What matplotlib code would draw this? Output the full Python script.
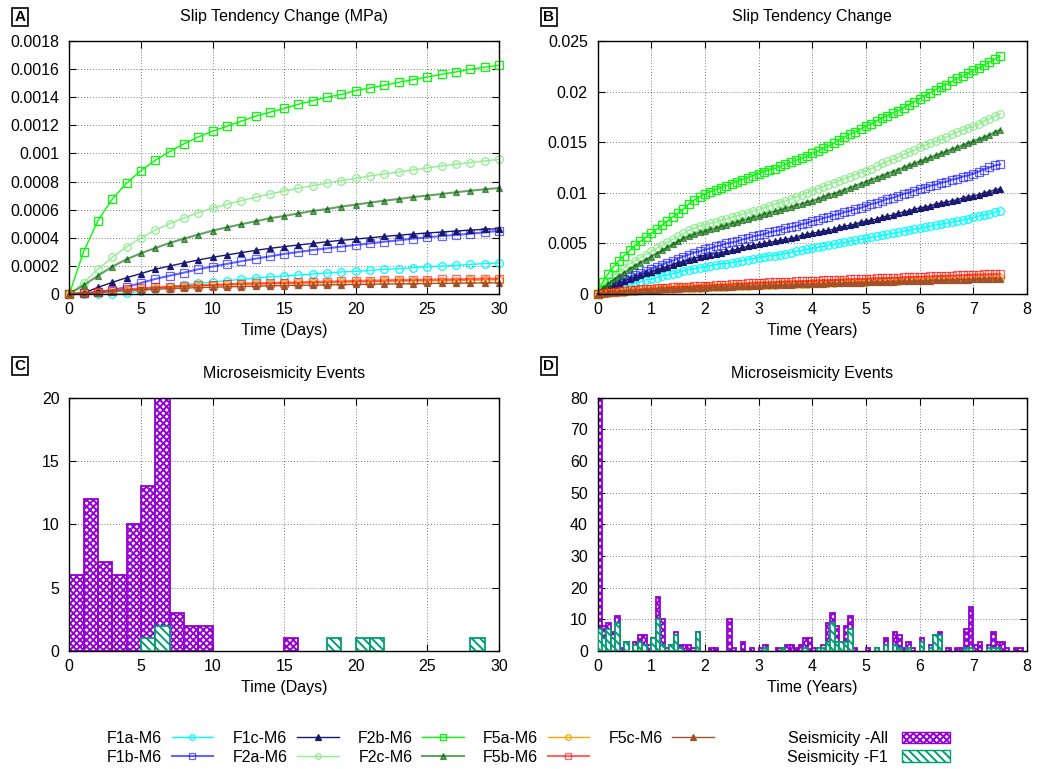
import numpy as np
import matplotlib
matplotlib.use('Agg')
import matplotlib.pyplot as plt
from matplotlib.lines import Line2D
from matplotlib.patches import Patch
from matplotlib.ticker import FuncFormatter, MultipleLocator

plt.rcParams['font.family'] = ['Liberation Sans', 'DejaVu Sans']
plt.rcParams['hatch.linewidth'] = 1.4

# ---- panel A : slip tendency change, daily (units of 1e-4 MPa)
days = np.arange(31)
f1a_a = [0, 0, 0, 0, 0.07, 0.2, 0.38, 0.52, 0.64, 0.76, 0.85, 0.95, 1.04, 1.14, 1.21, 1.28,
         1.35, 1.42, 1.49, 1.57, 1.61, 1.68, 1.76, 1.8, 1.87, 1.95, 1.99, 2.04, 2.11, 2.16, 2.21]
f1b_a = [0, 0.05, 0.14, 0.28, 0.5, 0.78, 1.07, 1.3, 1.52, 1.76, 1.95, 2.14, 2.33, 2.51, 2.68, 2.85,
         2.99, 3.13, 3.25, 3.37, 3.49, 3.6, 3.72, 3.82, 3.94, 4.03, 4.13, 4.2, 4.29, 4.39, 4.5]
f1c_a = [0, 0.07, 0.47, 0.83, 1.16, 1.45, 1.76, 1.99, 2.21, 2.42, 2.61, 2.78, 2.94, 3.1, 3.25, 3.37,
         3.49, 3.6, 3.72, 3.82, 3.91, 4.0, 4.1, 4.18, 4.27, 4.34, 4.41, 4.48, 4.55, 4.6, 4.65]
f2a_a = [0, 0.8, 1.76, 2.61, 3.35, 4.0, 4.55, 5.0, 5.41, 5.79, 6.1, 6.38, 6.64, 6.88, 7.12, 7.33,
         7.52, 7.71, 7.9, 8.07, 8.23, 8.4, 8.54, 8.68, 8.83, 8.97, 9.11, 9.23, 9.35, 9.47, 9.58]
f2b_a = [0, 3.01, 5.22, 6.76, 7.88, 8.78, 9.51, 10.13, 10.68, 11.17, 11.58, 11.93, 12.29, 12.65, 12.93, 13.2,
         13.5, 13.76, 14.0, 14.2, 14.47, 14.66, 14.85, 15.06, 15.25, 15.44, 15.63, 15.8, 15.99, 16.13, 16.27]
f2c_a = [0, 0.62, 1.3, 1.95, 2.47, 2.9, 3.27, 3.63, 3.94, 4.22, 4.51, 4.74, 4.96, 5.17, 5.39, 5.55,
         5.74, 5.91, 6.05, 6.22, 6.36, 6.5, 6.64, 6.76, 6.9, 7.0, 7.12, 7.24, 7.35, 7.45, 7.54]
f5a_a = [0, 0.04, 0.12, 0.21, 0.3, 0.37, 0.43, 0.48, 0.53, 0.57, 0.61, 0.64, 0.68, 0.7, 0.73, 0.75,
         0.77, 0.79, 0.81, 0.83, 0.85, 0.87, 0.89, 0.9, 0.92, 0.93, 0.95, 0.96, 0.97, 0.99, 1.0]
f5b_a = [0, 0.05, 0.14, 0.24, 0.33, 0.4, 0.47, 0.52, 0.57, 0.62, 0.66, 0.69, 0.74, 0.76, 0.78, 0.81,
         0.83, 0.85, 0.88, 0.9, 0.93, 0.95, 0.97, 1.0, 1.0, 1.02, 1.04, 1.04, 1.07, 1.09, 1.09]
f5c_a = [0, 0.03, 0.1, 0.17, 0.24, 0.3, 0.34, 0.38, 0.42, 0.45, 0.48, 0.51, 0.53, 0.56, 0.58, 0.6,
         0.62, 0.63, 0.65, 0.67, 0.68, 0.7, 0.71, 0.72, 0.73, 0.75, 0.76, 0.77, 0.78, 0.79, 0.8]

# ---- panel B : slip tendency change, every 0.1 year (units of 1e-4)
years = np.arange(76) * 0.1
f1a_b = [0, 2, 3, 5, 6, 8, 9, 11, 12, 14, 15, 16, 18, 19, 20, 21, 23, 24, 25, 26,
         27, 28, 29, 30, 30, 31, 32, 33, 34, 35, 36, 37, 38, 38, 39, 40, 41, 42, 43, 44,
         45, 46, 47, 48, 49, 50, 51, 52, 53, 54, 55, 56, 57, 58, 59, 60, 61, 62, 63, 64,
         65, 66, 67, 68, 69, 70, 71, 72, 73, 74, 76, 77, 78, 79, 81, 82]
f1b_b = [0, 4, 7, 10, 13, 15, 17, 19, 21, 23, 25, 27, 29, 31, 33, 35, 37, 39, 41, 42,
         44, 45, 47, 48, 50, 51, 52, 54, 55, 57, 58, 59, 61, 62, 63, 65, 66, 67, 69, 70,
         72, 73, 75, 76, 78, 79, 81, 82, 84, 85, 87, 89, 90, 92, 94, 95, 97, 99, 100, 102,
         104, 105, 107, 108, 110, 111, 113, 114, 116, 117, 119, 121, 123, 125, 127, 128]
f1c_b = [0, 3, 6, 9, 11, 13, 15, 17, 19, 21, 22, 24, 26, 27, 29, 31, 32, 34, 35, 37,
         38, 39, 40, 41, 42, 43, 44, 46, 47, 48, 49, 50, 51, 52, 53, 54, 55, 56, 58, 59,
         60, 61, 62, 63, 64, 66, 67, 68, 69, 71, 72, 73, 74, 76, 77, 78, 80, 81, 82, 84,
         85, 86, 87, 89, 90, 91, 92, 93, 95, 96, 97, 98, 100, 101, 103, 104]
f2a_b = [0, 8, 13, 18, 22, 26, 30, 33, 36, 39, 42, 45, 48, 51, 54, 57, 60, 63, 65, 67,
         68, 70, 71, 73, 74, 76, 77, 79, 80, 82, 83, 85, 87, 89, 90, 92, 94, 96, 98, 100,
         102, 104, 106, 108, 110, 112, 114, 116, 118, 120, 122, 124, 126, 129, 131, 133, 135, 138, 140, 142,
         145, 147, 149, 151, 153, 155, 158, 160, 162, 164, 166, 168, 171, 173, 176, 178]
f2b_b = [0, 12, 20, 27, 33, 38, 43, 48, 52, 56, 60, 64, 68, 72, 76, 80, 84, 89, 93, 96,
         99, 101, 103, 105, 107, 109, 111, 113, 115, 117, 119, 121, 123, 124, 126, 128, 130, 132, 134, 136,
         139, 141, 144, 146, 149, 152, 155, 158, 160, 163, 166, 168, 171, 174, 176, 179, 181, 184, 187, 190,
         193, 196, 199, 202, 205, 207, 210, 213, 215, 218, 221, 223, 226, 229, 232, 235]
f2c_b = [0, 6, 10, 14, 18, 21, 25, 28, 31, 34, 37, 40, 43, 46, 49, 52, 55, 57, 59, 61,
         62, 64, 65, 67, 68, 70, 71, 73, 74, 76, 77, 79, 80, 82, 83, 85, 86, 88, 89, 91,
         92, 94, 96, 98, 99, 101, 103, 105, 107, 109, 111, 113, 115, 117, 119, 121, 123, 125, 127, 129,
         131, 133, 135, 137, 139, 141, 143, 145, 147, 149, 151, 153, 155, 157, 160, 162]
f5a_b = [0, 1, 1.3, 1.7, 2, 2.4, 2.8, 3.2, 3.6, 4, 4.2, 4.5, 4.8, 5, 5.3, 5.6, 5.8, 6, 6.2, 6.4,
         6.6, 6.8, 7, 7.2, 7.4, 7.6, 7.8, 8, 8.2, 8.4, 8.6, 8.8, 9, 9.2, 9.4, 9.5, 9.7, 9.9, 10.1, 10.3,
         10.5, 10.7, 10.8, 11, 11.2, 11.4, 11.5, 11.7, 11.9, 12, 12.2, 12.4, 12.5, 12.7, 12.9, 13, 13.2, 13.4, 13.5, 13.7,
         13.9, 14, 14.2, 14.4, 14.5, 14.7, 14.9, 15, 15.2, 15.4, 15.5, 15.6, 15.7, 15.8, 15.9, 16]
f5b_b = [0, 1, 1.5, 2, 2.5, 3, 3.5, 4, 4.5, 5, 5, 5.5, 6, 6, 6.5, 7, 7, 7, 7.5, 8,
         8, 8.3, 8.6, 8.9, 9.2, 9.5, 9.8, 10.1, 10.4, 10.7, 11, 11.2, 11.4, 11.6, 11.8, 12, 12.2, 12.4, 12.6, 12.8,
         13, 13.2, 13.4, 13.6, 13.8, 14, 14.2, 14.4, 14.6, 14.8, 15, 15.2, 15.4, 15.6, 15.8, 16, 16.2, 16.4, 16.6, 16.8,
         17, 17.2, 17.4, 17.6, 17.8, 18, 18.2, 18.4, 18.6, 18.8, 19, 19.2, 19.4, 19.6, 19.8, 20]
f5c_b = [0, 0.8, 1.2, 1.6, 2, 2.3, 2.7, 3, 3.4, 3.7, 4, 4.3, 4.5, 4.8, 5, 5.3, 5.5, 5.7, 5.9, 6.1,
         6.3, 6.5, 6.7, 6.9, 7.1, 7.3, 7.5, 7.7, 7.9, 8.1, 8.2, 8.4, 8.6, 8.8, 8.9, 9.1, 9.3, 9.4, 9.6, 9.8,
         9.9, 10.1, 10.2, 10.4, 10.6, 10.7, 10.9, 11, 11.2, 11.3, 11.5, 11.6, 11.8, 11.9, 12.1, 12.2, 12.4, 12.5, 12.7, 12.8,
         13, 13.1, 13.3, 13.4, 13.6, 13.7, 13.9, 14, 14.2, 14.3, 14.5, 14.6, 14.7, 14.8, 14.9, 15]

labels = ['F1a-M6', 'F1b-M6', 'F1c-M6', 'F2a-M6', 'F2b-M6', 'F2c-M6', 'F5a-M6', 'F5b-M6', 'F5c-M6']
data_a = [f1a_a, f1b_a, f1c_a, f2a_a, f2b_a, f2c_a, f5a_a, f5b_a, f5c_a]
data_b = [f1a_b, f1b_b, f1c_b, f2a_b, f2b_b, f2c_b, f5a_b, f5b_b, f5c_b]

# ---- panel C : daily event counts
c_days = np.arange(30)
all_c = [6, 12, 7, 6, 10, 13, 20, 3, 2, 2, 0, 0, 0, 0, 0, 1, 0, 0, 0, 0,
         0, 0, 0, 0, 0, 0, 0, 0, 0, 0]
f1_c = [0, 0, 0, 0, 0, 1, 2, 0, 0, 0, 0, 0, 0, 0, 0, 0, 0, 0, 1, 0,
        1, 1, 0, 0, 0, 0, 0, 0, 1, 0]

# ---- panel D : monthly event counts
d_months = np.arange(95) / 12.0
all_d = [80, 8, 9, 6, 11, 1, 3, 0, 3, 5, 5, 2, 4, 17, 10, 1, 2, 6, 2, 2,
         2, 1, 6, 0, 0, 1, 1, 0, 0, 10, 1, 0, 3, 0, 1, 0, 1, 2, 0, 0,
         1, 1, 2, 2, 1, 2, 4, 4, 1, 1, 2, 9, 12, 8, 3, 8, 11, 1, 0, 0,
         1, 0, 1, 0, 4, 0, 6, 5, 1, 3, 1, 0, 4, 0, 2, 5, 6, 0, 1, 0,
         1, 1, 7, 14, 2, 3, 0, 2, 6, 3, 3, 1, 0, 1, 1]
f1_d = [7, 4, 7, 4, 9, 0, 3, 0, 2, 3, 2, 0, 4, 10, 2, 0, 2, 5, 1, 0,
        0, 0, 6, 0, 0, 0, 0, 0, 0, 0, 0, 0, 0, 0, 0, 0, 0, 1, 0, 0,
        0, 1, 0, 0, 0, 0, 1, 0, 0, 1, 1, 3, 9, 3, 3, 3, 7, 0, 0, 0,
        0, 0, 1, 0, 2, 0, 2, 1, 0, 1, 0, 0, 3, 0, 1, 5, 5, 0, 0, 0,
        0, 0, 1, 1, 0, 0, 0, 1, 1, 1, 0, 0, 0, 0, 0]

# styles
colors = ['#00ffff', '#0000ff', '#191970', '#90ee90', '#00ff00', '#006400', '#ffa500', '#ff0000', '#a0522d']
markers = ['o', 's', '^', 'o', 's', '^', 'o', 's', '^']
alphas = [1, 0.6, 1, 1, 1, 0.6, 1, 0.6, 1]
PURPLE = '#9400d3'
TEAL = '#009e73'

W, H = 1037, 769
fig = plt.figure(figsize=(W / 100, H / 100), dpi=100)


def box(l, t, r, b):
    return [l / W, 1 - b / H, (r - l) / W, (b - t) / H]


axA = fig.add_axes(box(69.3, 41, 499, 294))
axB = fig.add_axes(box(597.5, 41, 1027, 294))
axC = fig.add_axes(box(69.3, 397.7, 499, 651))
axD = fig.add_axes(box(597.5, 397.7, 1027, 651))

handles = []
for i, lab in enumerate(labels):
    tri = markers[i] == '^'
    kw = dict(color=colors[i], marker=markers[i], ms=5.5 if not tri else 5.0, mew=0.9,
              mfc=colors[i] if tri else 'none', lw=1.5 if alphas[i] < 1 else 1.0,
              alpha=alphas[i], clip_on=False)
    axA.plot(days, np.array(data_a[i]) * 1e-4, **kw)
    axB.plot(years, np.array(data_b[i]) * 1e-4, **kw)
    lkw = dict(kw, ms=4.0)
    handles.append(Line2D([], [], label=lab, **lkw))

for ax, iv, cnt, f1 in ((axC, c_days, all_c, f1_c), (axD, d_months, all_d, f1_d)):
    iv = np.asarray(iv)
    w = iv[1] - iv[0]
    cnt = np.asarray(cnt)
    f1 = np.asarray(f1)
    m = cnt > 0
    ax.bar(iv[m], cnt[m], width=w, align='edge', facecolor='white', edgecolor=PURPLE,
           hatch='xxxxx', lw=1.3, zorder=2)
    m = f1 > 0
    ax.bar(iv[m], f1[m], width=w, align='edge', facecolor='white', edgecolor=TEAL,
           hatch='\\\\\\\\', lw=1.3, zorder=3)

fmt = FuncFormatter(lambda v, p: '%g' % round(v, 6))
axA.set_xlim(0, 30); axA.set_ylim(0, 0.0018)
axA.xaxis.set_major_locator(MultipleLocator(5)); axA.yaxis.set_major_locator(MultipleLocator(0.0002))
axB.set_xlim(0, 8); axB.set_ylim(0, 0.025)
axB.xaxis.set_major_locator(MultipleLocator(1)); axB.yaxis.set_major_locator(MultipleLocator(0.005))
axC.set_xlim(0, 30); axC.set_ylim(0, 20)
axC.xaxis.set_major_locator(MultipleLocator(5)); axC.yaxis.set_major_locator(MultipleLocator(5))
axD.set_xlim(0, 8); axD.set_ylim(0, 80)
axD.xaxis.set_major_locator(MultipleLocator(1)); axD.yaxis.set_major_locator(MultipleLocator(10))

titles = ['Slip Tendency Change (MPa)', 'Slip Tendency Change', 'Microseismicity Events', 'Microseismicity Events']
xlabs = ['Time (Days)', 'Time (Years)', 'Time (Days)', 'Time (Years)']
for ax, t, xl in zip((axA, axB, axC, axD), titles, xlabs):
    ax.set_axisbelow(True)
    ax.yaxis.set_major_formatter(fmt)
    ax.xaxis.set_major_formatter(fmt)
    ax.tick_params(direction='in', top=True, right=True, length=5, width=0.8, labelsize=11.5)
    ax.tick_params(axis='y', pad=7)
    ax.tick_params(axis='x', pad=6)
    ax.grid(True, color='k', linestyle=(0, (1, 2.5)), linewidth=0.6, alpha=0.7)
    for s in ax.spines.values():
        s.set_linewidth(1.0)
    ax.text(0.5, 1.095, t, transform=ax.transAxes, ha='center', va='center', fontsize=11.5)
    ax.set_xlabel(xl, fontsize=11.5, labelpad=4)

for lab, x, y in (('A', 20, 17), ('B', 549, 17), ('C', 20, 366), ('D', 549, 366)):
    fig.text(x / W, 1 - y / H, lab, ha='center', va='center', fontsize=11, fontweight='bold',
             bbox=dict(boxstyle='square,pad=0.15', fc='white', ec='k', lw=1.2))

legfont = {'family': ['Liberation Sans Narrow', 'Liberation Sans'], 'size': 11.5}
fig.legend(handles=handles, ncol=5, loc='upper left', bbox_to_anchor=(107 / W, 1 - 731 / H),
           frameon=False, markerfirst=False, prop=legfont, handlelength=2.6,
           handletextpad=0.6, columnspacing=1.2, labelspacing=0.22, borderpad=0, borderaxespad=0)
seis = [Patch(facecolor='white', edgecolor=PURPLE, hatch='xxxxx', label='Seismicity -All'),
        Patch(facecolor='white', edgecolor=TEAL, hatch='\\\\\\\\', label='Seismicity -F1')]
fig.legend(handles=seis, loc='upper left', bbox_to_anchor=(787 / W, 1 - 731 / H),
           frameon=False, markerfirst=False, prop=legfont, handlelength=3.0,
           handletextpad=0.9, labelspacing=0.22, borderpad=0, borderaxespad=0)

fig.savefig('out.png', dpi=100)
